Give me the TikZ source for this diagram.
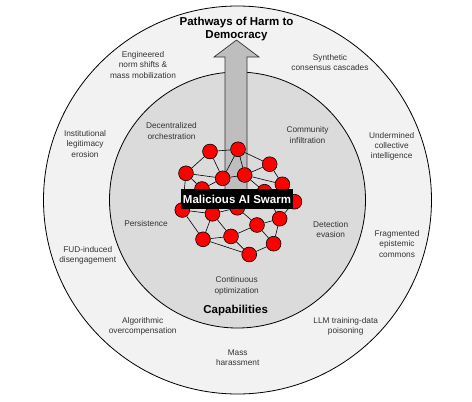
\documentclass[tikz,border=0pt]{standalone}
\usepackage{fontspec}
\setmainfont{Liberation Sans}
\pgfdeclarelayer{bg}
\pgfdeclarelayer{mid}
\pgfsetlayers{bg,mid,main}
\definecolor{ringfill}{HTML}{F2F2F2}
\definecolor{innerfill}{HTML}{DBDBDB}
\definecolor{arrowfill}{HTML}{BEBEBE}
\definecolor{txt}{HTML}{333333}
\tikzset{
  agent/.style={circle,draw=black,line width=0.6pt,fill=red,minimum size=14.8pt,inner sep=0pt},
  link/.style={draw=black,line width=0.6pt},
  lbl/.style={align=center,text=txt,font=\fontsize{8.3}{10.3}\selectfont,inner sep=0pt},
  ttl/.style={align=center,text=black,font=\fontsize{11.5}{13.2}\selectfont\bfseries,inner sep=0pt},
}
\begin{document}
\begin{tikzpicture}[x=1pt,y=-1pt]
\useasboundingbox (0,0) rectangle (472,402);
\begin{pgfonlayer}{bg}
\fill[white] (0,0) rectangle (472,402);
\coordinate (c) at (237.5,200);
\draw[fill=ringfill,line width=0.8pt] (c) circle[radius=194];
\draw[fill=innerfill,line width=0.8pt] (c) circle[radius=128];
\draw[fill=arrowfill,line width=0.7pt,draw=black!80] (225,200) -- (225,57) -- (214,57) -- (236.5,40) -- (259,57) -- (247,57) -- (247,200);
\end{pgfonlayer}
% swarm nodes
\node[agent] (n1) at (210,151.5) {};
\node[agent] (n2) at (238,149.3) {};
\node[agent] (n3) at (269.7,164.2) {};
\node[agent] (n4) at (186,173.3) {};
\node[agent] (n5) at (222.7,178.3) {};
\node[agent] (n6) at (244.7,175) {};
\node[agent] (n7) at (282.4,184.3) {};
\node[agent] (n8) at (202,189) {};
\node[agent] (n9) at (264.5,191.7) {};
\node[agent] (n10) at (294.5,201.7) {};
\node[agent] (n11) at (182.3,210) {};
\node[agent] (n12) at (212.5,213.8) {};
\node[agent] (n13) at (237.3,207.8) {};
\node[agent] (n14) at (257,225) {};
\node[agent] (n15) at (279.7,218.7) {};
\node[agent] (n16) at (203,239.3) {};
\node[agent] (n17) at (231,236.4) {};
\node[agent] (n18) at (273.6,243.7) {};
\node[agent] (n19) at (249.2,254.5) {};
\begin{pgfonlayer}{mid}
\foreach \a/\b in {1/2,1/4,1/5,2/5,2/3,2/6,3/6,3/7,4/5,4/8,4/11,5/6,5/8,6/9,6/7,7/10,9/10,8/12,11/12,11/16,12/16,12/17,12/13,13/14,14/15,14/17,14/18,15/10,15/18,16/17,16/19,17/19,18/19,9/15,13/9}
  \draw[link] (n\a) -- (n\b);
\end{pgfonlayer}
\node[fill=black,text=white,font=\fontsize{11.5}{13}\selectfont\bfseries,inner sep=0pt,minimum width=112pt,minimum height=20pt] (swarm) at (237,199) {Malicious AI Swarm};
% titles
\node[ttl] (title) at (236.5,29.3) {Pathways of Harm to\\Democracy};
\node[ttl] (cap) at (235.7,311) {Capabilities};
% outer ring labels
\node[lbl] (h1) at (143,65) {Engineered\\norm shifts \&\\mass mobilization};
\node[lbl] (h2) at (330,62.5) {Synthetic\\consensus cascades};
\node[lbl] (h3) at (85,144) {Institutional\\legitimacy\\erosion};
\node[lbl] (h4) at (391.7,146.5) {Undermined\\collective\\intelligence};
\node[lbl] (h5) at (87.7,255.5) {FUD-induced\\disengagement};
\node[lbl] (h6) at (397,244) {Fragmented\\epistemic\\commons};
\node[lbl] (h7) at (142.7,326.5) {Algorithmic\\overcompensation};
\node[lbl] (h8) at (345.7,326.5) {LLM training-data\\poisoning};
\node[lbl] (h9) at (237.7,358) {Mass\\harassment};
% inner labels
\node[lbl] (k1) at (171.5,131) {Decentralized\\orchestration};
\node[lbl] (k2) at (307.5,135) {Community\\infiltration};
\node[lbl] (k3) at (146,224) {Persistence};
\node[lbl] (k4) at (330.7,229.5) {Detection\\evasion};
\node[lbl] (k5) at (236.7,286) {Continuous\\optimization};
\end{tikzpicture}
\end{document}
